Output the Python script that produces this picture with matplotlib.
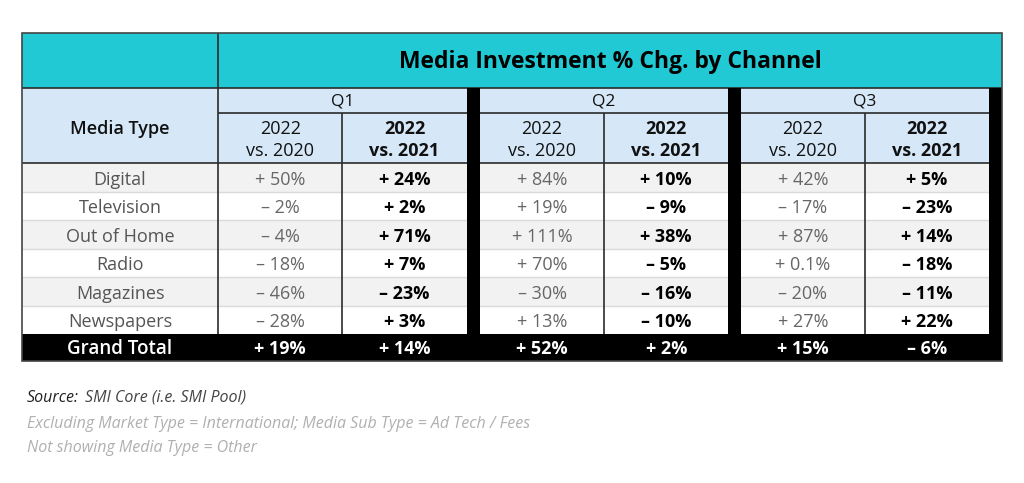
import matplotlib
matplotlib.use("Agg")
import matplotlib.pyplot as plt
from matplotlib.patches import Rectangle

# ---------------- data ----------------
title = "Media Investment % Chg. by Channel"
media_types = ["Digital", "Television", "Out of Home", "Radio", "Magazines", "Newspapers"]
quarters = ["Q1", "Q2", "Q3"]
sub_headers = ["2022\nvs. 2020", "2022\nvs. 2021"]
vs2020_q1 = [50, -2, -4, -18, -46, -28]
vs2021_q1 = [24, 2, 71, 7, -23, 3]
vs2020_q2 = [84, 19, 111, 70, -30, 13]
vs2021_q2 = [10, -9, 38, -5, -16, -10]
vs2020_q3 = [42, -17, 87, 0.1, -20, 27]
vs2021_q3 = [5, -23, 14, -18, -11, 22]
total_label = "Grand Total"
total_vs2020 = [19, 52, 15]
total_vs2021 = [14, 2, -6]
notes_source_label = "Source:"
notes_source = "SMI Core (i.e. SMI Pool)"
notes_lines = ["Excluding Market Type = International; Media Sub Type = Ad Tech / Fees",
               "Not showing Media Type = Other"]

vs2020 = [vs2020_q1, vs2020_q2, vs2020_q3]
vs2021 = [vs2021_q1, vs2021_q2, vs2021_q3]

def fmt(v):
    sign = "+" if v >= 0 else "–"
    return f"{sign} {abs(v):g}%"

# ---------------- layout ----------------
W, H = 1024, 483
fig = plt.figure(figsize=(W / 100, H / 100), dpi=100)
ax = fig.add_axes([0, 0, 1, 1])
ax.set_xlim(0, W)
ax.set_ylim(H, 0)
ax.axis("off")

FONT = "Open Sans"
ST = "normal"
CYAN = "#20C9D4"
LBLUE = "#D6E8F7"
GRAY_ROW = "#F2F2F2"
DARK = "#2b2b2b"
LIGHTLINE = "#DADADA"

x_left, x_lab = 22, 218
q_spans = [(218, 466.7), (480, 728.3), (741, 989)]
x_right = 1002
y_top, y_head, y_q, y_sub = 33, 88, 113, 163
row_h = 28.5
n = len(media_types)
y_tot = y_sub + n * row_h
y_bot = 361

def rect(x0, y0, x1, y1, fc, ec="none", lw=0, z=1):
    ax.add_patch(Rectangle((x0, y0), x1 - x0, y1 - y0, facecolor=fc,
                           edgecolor=ec, linewidth=lw, zorder=z))

def line(x0, y0, x1, y1, c=DARK, lw=1.2, z=3):
    ax.plot([x0, x1], [y0, y1], color=c, lw=lw, zorder=z, solid_capstyle="butt")

def txt(x, y, s, size, weight="normal", color="black", **kw):
    ax.text(x, y, s, ha=kw.pop("ha", "center"), va=kw.pop("va", "center"),
            fontsize=size, fontweight=weight, fontstretch=ST, family=FONT,
            color=color, zorder=6, **kw)

# title band
rect(x_left, y_top, x_right, y_head, CYAN)
# header band
rect(x_left, y_head, x_right, y_sub, LBLUE)
# data rows
for i in range(n):
    y0 = y_sub + i * row_h
    rect(x_left, y0, x_right, y0 + row_h, GRAY_ROW if i % 2 == 0 else "white")
    if i > 0:
        line(x_left, y0, q_spans[-1][1], y0, c=LIGHTLINE, lw=1.0, z=2)
# total row
rect(x_left, y_tot, x_right, y_bot, "black", z=4)
# black separators
for k in range(len(q_spans) - 1):
    rect(q_spans[k][1], y_head, q_spans[k + 1][0], y_bot, "black", z=4)
rect(q_spans[-1][1], y_head, x_right, y_bot, "black", z=4)

# lines
line(x_left, y_head, x_right, y_head)
line(x_lab, y_top, x_lab, y_tot)
for (a, b) in q_spans:
    mid = (a + b) / 2
    line(a, y_q, b, y_q)
    line(a, y_sub, b, y_sub)
    line(mid, y_q, mid, y_tot)
line(x_left, y_sub, x_lab, y_sub)
ax.add_patch(Rectangle((x_left, y_top), x_right - x_left, y_bot - y_top,
                       fill=False, edgecolor="#444444", lw=1.2, zorder=5))

# texts
txt((x_lab + x_right) / 2, (y_top + y_head) / 2 + 1, title, 16.5, "bold")
txt((x_left + x_lab) / 2, (y_head + y_sub) / 2 + 3, "Media Type", 13, "semibold", "#111111")
for k, (a, b) in enumerate(q_spans):
    mid = (a + b) / 2
    txt(mid, (y_head + y_q) / 2 + 1.5, quarters[k], 12.5, "normal", "#111111")
    c1, c2 = (a + mid) / 2, (mid + b) / 2
    txt(c1, (y_q + y_sub) / 2 + 2, sub_headers[0], 13, "normal", "#111111", linespacing=1.35)
    txt(c2, (y_q + y_sub) / 2 + 2, sub_headers[1], 13, "bold", "#111111", linespacing=1.35)
    for i in range(n):
        yc = y_sub + (i + 0.5) * row_h + 2.5
        txt(c1, yc, fmt(vs2020[k][i]), 13, "normal", "#666666")
        txt(c2, yc, fmt(vs2021[k][i]), 13, "bold", "black")
    yt = (y_tot + y_bot) / 2 + 1.5
    txt(c1, yt, fmt(total_vs2020[k]), 13, "bold", "white")
    txt(c2, yt, fmt(total_vs2021[k]), 13, "bold", "white")

for i, m in enumerate(media_types):
    yc = y_sub + (i + 0.5) * row_h + 2.5
    txt((x_left + x_lab) / 2, yc, m, 13, "normal", "#555555")
txt((x_left + x_lab) / 2, (y_tot + y_bot) / 2 + 1.5, total_label, 13.5, "semibold", "white")

# notes
t = ax.text(27, 398, notes_source_label, ha="left", va="center", fontsize=11.5,
            style="italic", family=FONT, fontstretch=ST, color="#222222")
fig.canvas.draw()
bb = t.get_window_extent()
x_after = ax.transData.inverted().transform((bb.x1, bb.y0))[0]
ax.text(x_after + 6, 398, notes_source, ha="left", va="center", fontsize=11.5,
        style="italic", family=FONT, fontstretch=ST, color="#444444")
for j, s in enumerate(notes_lines):
    ax.text(27, 424 + 24 * j, s, ha="left", va="center", fontsize=11.5,
            style="italic", family=FONT, fontstretch=ST, color="#B0B0B0")

fig.savefig("out.png", dpi=100)
